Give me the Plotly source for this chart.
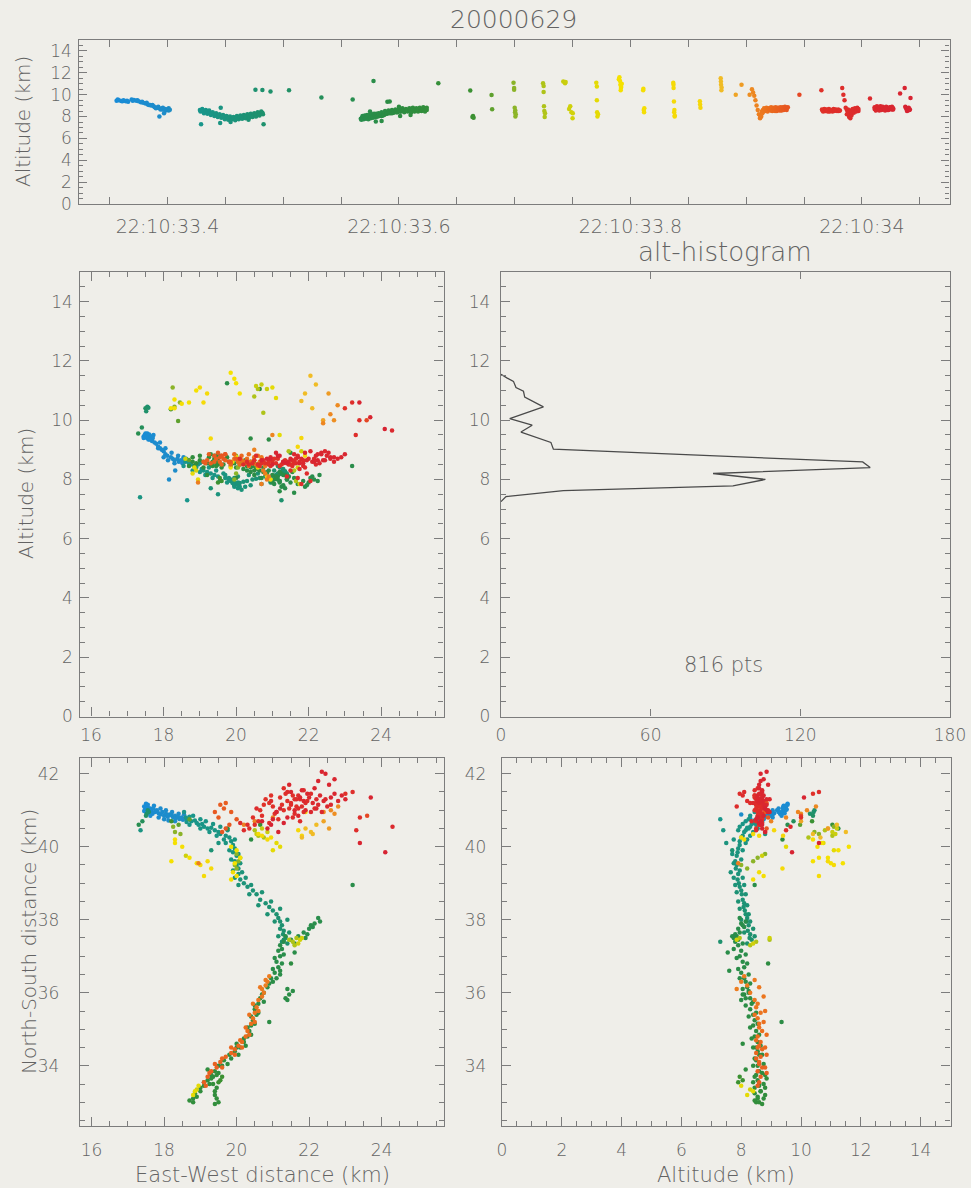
import plotly.graph_objects as go

# ---------------- data ----------------
TITLE = "20000629"
HIST_TITLE = "alt-histogram"
NPTS_TEXT = "816 pts"

# each source: (time [s after 22:10:00], East-West km, North-South km, altitude km)
seg_blue = [
    (33.356, 17.45, 41.10, 9.45), (33.358, 17.48, 41.05, 9.50), (33.360, 17.50, 41.12, 9.42),
    (33.362, 17.52, 41.00, 9.48), (33.364, 17.55, 41.08, 9.40), (33.366, 17.58, 40.95, 9.35),
    (33.369, 17.55, 41.15, 9.55), (33.371, 17.60, 41.02, 9.52), (33.373, 17.65, 40.98, 9.45),
    (33.375, 17.70, 41.05, 9.40), (33.377, 17.68, 40.90, 9.30), (33.379, 17.75, 40.95, 9.25),
    (33.381, 17.80, 41.00, 9.20), (33.383, 17.85, 40.92, 9.10), (33.384, 17.90, 40.88, 9.05),
    (33.386, 17.95, 40.95, 9.00), (33.388, 18.00, 40.85, 8.95), (33.389, 18.05, 40.90, 8.85),
    (33.391, 18.10, 40.82, 8.80), (33.393, 18.15, 40.88, 8.00), (33.393, 18.20, 40.86, 8.75),
    (33.395, 18.25, 40.80, 8.70), (33.396, 18.30, 40.85, 8.65), (33.397, 18.32, 40.78, 8.30),
    (33.398, 18.38, 40.82, 8.70), (33.399, 18.42, 40.76, 8.60), (33.400, 18.48, 40.80, 8.65),
    (33.401, 18.52, 40.74, 8.55), (33.402, 18.58, 40.78, 8.62),
]
seg_blue2 = [
    (33.3570, 17.50, 41.18, 9.55), (33.3610, 17.45, 40.98, 9.40), (33.3650, 17.62, 41.05, 9.45),
    (33.3700, 17.52, 40.92, 9.45), (33.3740, 17.72, 41.12, 9.50), (33.3780, 17.62, 40.85, 9.35),
    (33.3820, 17.90, 41.05, 9.25), (33.3850, 17.85, 40.80, 9.05), (33.3870, 18.05, 41.00, 9.05),
    (33.3900, 18.00, 40.75, 8.75), (33.3920, 18.22, 40.95, 8.90), (33.3940, 18.12, 40.72, 8.65),
    (33.3960, 18.40, 40.90, 8.80), (33.3985, 18.30, 40.70, 8.55), (33.4010, 18.55, 40.88, 8.75),
]
seg_teal = [
    (33.428, 18.60, 40.80, 8.60), (33.429, 18.65, 40.75, 7.30), (33.430, 18.70, 40.82, 8.55),
    (33.431, 18.75, 40.70, 8.50), (33.433, 18.85, 40.72, 8.45), (33.434, 18.90, 40.65, 8.40),
    (33.435, 18.95, 40.60, 8.50), (33.437, 19.05, 40.62, 8.35), (33.438, 19.10, 40.55, 8.30),
    (33.440, 19.20, 40.50, 8.25), (33.441, 19.30, 40.52, 8.20), (33.442, 19.40, 40.45, 8.15),
    (33.444, 19.50, 40.40, 8.10), (33.446, 19.55, 40.35, 8.80), (33.447, 19.70, 40.30, 8.05),
    (33.448, 19.80, 40.25, 8.00), (33.449, 19.85, 40.15, 7.95), (33.451, 19.90, 40.05, 7.95),
    (33.452, 19.95, 39.95, 7.90), (33.453, 19.90, 39.85, 7.88), (33.455, 20.00, 39.75, 7.85),
    (33.456, 19.95, 39.60, 7.80), (33.457, 20.00, 39.50, 7.85), (33.459, 20.05, 39.40, 7.82),
    (33.460, 20.05, 39.25, 7.90), (33.462, 20.10, 39.10, 7.88), (33.463, 20.20, 39.00, 7.92),
    (33.464, 20.30, 38.90, 7.95), (33.466, 20.45, 38.80, 8.00), (33.467, 20.55, 38.70, 8.02),
    (33.468, 20.65, 38.55, 8.05), (33.470, 20.80, 38.45, 8.10), (33.471, 20.90, 38.35, 8.08),
    (33.472, 21.00, 38.25, 8.12), (33.474, 21.10, 38.15, 8.15), (33.475, 21.15, 38.05, 8.20),
    (33.476, 21.20, 37.95, 8.18), (33.477, 21.25, 37.85, 8.25), (33.479, 21.30, 37.70, 8.22),
    (33.480, 21.28, 37.60, 8.30), (33.481, 21.35, 37.50, 8.28), (33.482, 21.30, 37.45, 8.35),
    (33.483, 21.25, 37.40, 7.30),
]
seg_teal2 = [
    (33.4285, 18.55, 40.95, 8.45), (33.4300, 18.62, 40.68, 8.70), (33.4315, 18.80, 40.85, 8.30),
    (33.4330, 18.70, 40.60, 8.60), (33.4345, 19.00, 40.75, 8.25), (33.4360, 19.00, 40.50, 8.55),
    (33.4375, 19.15, 40.70, 8.15), (33.4390, 19.25, 40.40, 8.40), (33.4405, 19.35, 40.62, 8.05),
    (33.4420, 19.45, 40.30, 8.30), (33.4435, 19.55, 40.55, 7.95), (33.4450, 19.65, 40.20, 8.20),
    (33.4465, 19.75, 40.45, 7.90), (33.4480, 19.70, 40.10, 8.15), (33.4495, 19.95, 40.20, 7.75),
    (33.4510, 19.80, 39.90, 8.05), (33.4525, 20.05, 39.80, 7.70), (33.4540, 19.85, 39.65, 8.00),
    (33.4555, 20.10, 39.55, 7.75), (33.4570, 19.90, 39.35, 7.95), (33.4585, 20.15, 39.30, 7.65),
    (33.4600, 19.95, 39.15, 8.05), (33.4615, 20.25, 39.15, 7.75), (33.4630, 20.05, 38.95, 8.10),
    (33.4645, 20.40, 38.95, 7.80), (33.4660, 20.35, 38.70, 8.15), (33.4675, 20.70, 38.75, 7.85),
    (33.4690, 20.60, 38.40, 8.20), (33.4705, 20.95, 38.50, 7.90), (33.4720, 20.85, 38.15, 8.25),
    (33.4735, 21.20, 38.30, 7.95), (33.4750, 21.05, 37.95, 8.30), (33.4765, 21.40, 38.00, 8.00),
    (33.4780, 21.20, 37.75, 8.40), (33.4795, 21.45, 37.65, 8.10), (33.4810, 21.15, 37.55, 8.45),
    (33.4825, 21.40, 37.35, 8.20),
]
seg_isolated = [
    (33.476, 17.55, 41.00, 10.45), (33.482, 17.58, 40.95, 10.42), (33.489, 17.52, 40.90, 10.30),
    (33.505, 17.50, 40.85, 10.40), (33.533, 17.40, 40.70, 9.75), (33.560, 17.30, 40.60, 9.55),
    (33.578, 19.75, 40.50, 11.25), (33.592, 20.40, 40.20, 9.38), (33.634, 20.65, 40.60, 11.05),
]
seg_scatter = [
    (33.4455, 17.35, 40.45, 7.40), (33.4545, 19.50, 40.10, 7.50), (33.4700, 19.30, 39.90, 7.70),
    (33.5750, 23.20, 38.95, 8.45), (33.5800, 21.60, 37.10, 7.55), (33.5850, 21.20, 36.60, 7.60),
    (33.5900, 20.90, 35.20, 9.35), (33.6000, 21.50, 36.80, 8.90), (33.6010, 20.00, 34.60, 8.05),
    (33.6100, 19.20, 33.90, 8.15),
]
seg_green = [
    (33.567, 21.30, 37.40, 7.80), (33.568, 21.50, 37.45, 7.90), (33.569, 21.70, 37.55, 7.85),
    (33.570, 21.85, 37.65, 7.95), (33.571, 22.00, 37.75, 7.90), (33.572, 22.15, 37.90, 8.00),
    (33.573, 22.25, 38.05, 7.95), (33.574, 22.05, 37.85, 8.05), (33.575, 21.20, 37.30, 7.90),
    (33.576, 21.15, 37.15, 8.00), (33.577, 21.20, 37.00, 7.95), (33.579, 21.10, 36.85, 8.05),
    (33.580, 21.15, 36.70, 8.10), (33.581, 21.05, 36.55, 8.00), (33.582, 21.10, 36.40, 8.10),
    (33.584, 21.00, 36.30, 8.15), (33.585, 21.40, 36.10, 8.05), (33.586, 21.45, 35.95, 8.10),
    (33.587, 21.35, 35.85, 8.15), (33.588, 20.85, 36.15, 8.20), (33.589, 20.75, 36.00, 8.25),
    (33.591, 20.65, 35.85, 8.30), (33.592, 20.60, 35.70, 8.35), (33.594, 20.50, 35.55, 8.30),
    (33.595, 20.55, 35.40, 8.40), (33.597, 20.45, 35.25, 8.45), (33.598, 20.40, 35.10, 8.40),
    (33.600, 20.35, 34.95, 8.50), (33.601, 20.30, 34.80, 8.45), (33.603, 20.20, 34.65, 8.55),
    (33.604, 20.10, 34.50, 8.50), (33.606, 19.95, 34.40, 8.55), (33.607, 19.80, 34.30, 8.60),
    (33.609, 19.65, 34.15, 8.50), (33.610, 19.50, 34.00, 8.55), (33.612, 19.40, 33.85, 8.60),
    (33.613, 19.30, 33.75, 8.50), (33.615, 19.20, 33.60, 8.55), (33.616, 19.10, 33.45, 8.60),
    (33.617, 19.00, 33.30, 8.65), (33.619, 18.90, 33.15, 8.55), (33.620, 18.80, 33.00, 8.60),
    (33.621, 19.40, 33.30, 8.65), (33.622, 19.45, 33.10, 8.55), (33.623, 19.40, 32.95, 8.70),
    (33.624, 19.35, 33.50, 8.60),
]
seg_green2 = [
    (33.5675, 21.35, 37.55, 7.70), (33.5685, 21.60, 37.35, 8.05), (33.5695, 21.90, 37.50, 7.75),
    (33.5705, 22.10, 37.80, 8.10), (33.5715, 21.95, 37.60, 7.80), (33.5725, 22.30, 37.95, 8.15),
    (33.5735, 21.25, 37.20, 7.75), (33.5745, 21.30, 37.05, 8.15), (33.5755, 21.05, 36.95, 7.85),
    (33.5765, 21.25, 36.80, 8.20), (33.5775, 21.00, 36.65, 7.90), (33.5785, 21.20, 36.50, 8.25),
    (33.5795, 20.95, 36.40, 7.95), (33.5805, 21.55, 36.05, 8.25), (33.5815, 21.40, 35.80, 8.00),
    (33.5825, 20.90, 36.25, 8.30), (33.5835, 20.70, 35.95, 8.05), (33.5850, 20.75, 35.75, 8.40),
    (33.5865, 20.50, 35.65, 8.15), (33.5880, 20.60, 35.45, 8.50), (33.5895, 20.40, 35.35, 8.25),
    (33.5910, 20.50, 35.15, 8.55), (33.5925, 20.30, 35.05, 8.30), (33.5940, 20.40, 34.85, 8.60),
    (33.5955, 20.20, 34.75, 8.35), (33.5970, 20.25, 34.55, 8.65), (33.5985, 20.00, 34.50, 8.40),
    (33.6000, 20.05, 34.30, 8.70), (33.6015, 19.85, 34.20, 8.45), (33.6030, 19.75, 34.05, 8.75),
    (33.6045, 19.60, 34.00, 8.40), (33.6060, 19.50, 33.80, 8.70), (33.6075, 19.35, 33.70, 8.45),
    (33.6090, 19.25, 33.50, 8.75), (33.6105, 19.10, 33.55, 8.40), (33.6120, 19.00, 33.40, 8.80),
    (33.6135, 18.85, 33.25, 8.45), (33.6150, 18.80, 33.10, 8.75), (33.6165, 19.45, 33.40, 8.45),
    (33.6180, 19.40, 33.20, 8.80), (33.6195, 19.50, 33.00, 8.50), (33.6210, 19.30, 33.65, 8.85),
    (33.6225, 18.70, 33.05, 8.45), (33.6240, 19.45, 33.75, 8.80),
]
seg_yellow = [
    (33.6616, 18.20, 40.70, 10.37), (33.6635, 19.60, 33.70, 7.95), (33.6640, 19.55, 33.60, 8.05),
    (33.6645, 19.50, 33.55, 7.90), (33.6800, 18.40, 40.60, 9.97), (33.6805, 18.70, 40.75, 8.66),
    (33.6990, 18.25, 40.55, 11.10), (33.6995, 18.30, 40.40, 10.45), (33.7000, 20.00, 39.80, 8.80),
    (33.7003, 20.05, 39.60, 8.40), (33.7006, 19.95, 39.50, 8.00), (33.7009, 20.00, 39.40, 8.20),
    (33.7245, 20.60, 40.30, 11.05), (33.7250, 20.75, 40.25, 10.25), (33.7253, 21.45, 37.45, 8.95),
    (33.7256, 21.55, 37.40, 8.50), (33.7259, 21.65, 37.50, 7.95), (33.7420, 20.70, 40.50, 11.20),
    (33.7440, 20.55, 40.35, 11.15), (33.7480, 21.80, 37.50, 8.95), (33.7490, 21.70, 37.35, 8.40),
    (33.7500, 21.75, 37.45, 7.85), (33.7502, 18.90, 33.35, 8.30), (33.7705, 21.00, 39.90, 11.10),
    (33.7710, 21.20, 40.00, 9.50), (33.7712, 18.85, 33.30, 8.40), (33.7715, 18.95, 33.45, 8.00),
    (33.7905, 19.85, 40.00, 11.60), (33.7910, 20.00, 39.90, 11.25), (33.7913, 20.10, 39.70, 10.90),
    (33.7916, 18.20, 39.60, 10.40), (33.7920, 18.30, 40.10, 10.70), (33.8110, 18.30, 40.20, 10.40),
    (33.8115, 19.90, 39.30, 8.60), (33.8118, 19.85, 39.10, 8.40), (33.8370, 19.00, 39.50, 11.10),
    (33.8373, 19.10, 39.20, 10.60), (33.8376, 19.30, 39.40, 9.38), (33.8380, 20.70, 40.30, 8.60),
    (33.8383, 20.85, 40.20, 8.10), (33.8600, 21.80, 40.30, 9.40), (33.8605, 21.90, 40.95, 8.80),
    (33.8780, 22.05, 40.40, 11.50), (33.8783, 21.90, 40.50, 10.90), (33.8786, 22.10, 40.35, 10.40),
    (33.8910, 22.40, 40.70, 10.00), (33.8960, 22.55, 40.50, 10.90), (33.9030, 22.70, 40.90, 10.00),
]
seg_yellow2 = [
    (33.6995, 18.45, 40.35, 10.60), (33.7005, 20.10, 39.70, 8.55), (33.7250, 20.50, 40.45, 10.80),
    (33.7262, 21.60, 37.30, 8.30), (33.7435, 20.85, 40.40, 11.05), (33.7470, 18.60, 39.75, 8.70),
    (33.7710, 21.10, 40.10, 10.75), (33.7720, 18.80, 33.20, 8.20), (33.7900, 19.95, 39.55, 11.40),
    (33.7918, 18.70, 39.70, 10.60), (33.7925, 18.90, 39.55, 11.00), (33.8112, 18.50, 40.00, 10.55),
    (33.8120, 20.00, 39.20, 8.75), (33.8372, 19.20, 39.60, 10.90), (33.8378, 20.60, 40.35, 8.40),
    (33.8382, 20.95, 40.25, 8.00), (33.8602, 21.70, 40.45, 9.10), (33.8782, 22.20, 40.60, 11.20),
    (33.8788, 21.80, 40.25, 10.65),
]
seg_orange = [
    (33.905, 22.80, 41.10, 10.50), (33.906, 22.60, 41.00, 10.20), (33.907, 22.40, 40.95, 9.90),
    (33.908, 21.00, 40.80, 9.50), (33.909, 20.50, 40.70, 9.00), (33.910, 20.20, 40.60, 8.60),
    (33.911, 20.80, 36.20, 8.20), (33.912, 20.70, 36.10, 7.85), (33.912, 18.95, 39.55, 7.90),
    (33.913, 20.85, 36.30, 8.00), (33.914, 20.75, 36.00, 8.30), (33.915, 20.60, 35.80, 8.45),
    (33.916, 20.55, 35.60, 8.50), (33.917, 20.50, 35.45, 8.65), (33.918, 20.45, 35.30, 8.55),
    (33.919, 20.40, 35.15, 8.60), (33.920, 20.30, 34.95, 8.70), (33.921, 20.25, 34.80, 8.55),
    (33.922, 20.15, 34.65, 8.65), (33.923, 20.05, 34.55, 8.60), (33.924, 19.95, 34.45, 8.70),
    (33.925, 19.85, 34.35, 8.50), (33.926, 19.70, 34.25, 8.65), (33.927, 19.55, 34.10, 8.60),
    (33.928, 19.45, 33.95, 8.70), (33.929, 19.30, 33.85, 8.55), (33.930, 19.20, 33.70, 8.65),
    (33.931, 19.10, 33.55, 8.60), (33.932, 19.55, 41.15, 8.75), (33.933, 19.65, 41.05, 8.70),
    (33.934, 19.40, 40.95, 8.80), (33.935, 19.80, 40.60, 8.60), (33.936, 19.70, 40.50, 8.85),
    (33.946, 23.60, 40.85, 10.00),
]
seg_orange2 = [
    (33.9125, 20.90, 36.45, 8.10), (33.9135, 20.80, 36.35, 8.45), (33.9145, 20.65, 36.15, 8.60),
    (33.9155, 20.70, 35.90, 8.75), (33.9165, 20.45, 35.70, 8.55), (33.9175, 20.60, 35.50, 8.80),
    (33.9185, 20.35, 35.40, 8.45), (33.9195, 20.50, 35.20, 8.75), (33.9205, 20.25, 35.05, 8.60),
    (33.9215, 20.35, 34.85, 8.85), (33.9225, 20.10, 34.70, 8.50), (33.9235, 20.15, 34.50, 8.80),
    (33.9245, 19.85, 34.50, 8.55), (33.9255, 19.95, 34.30, 8.85), (33.9265, 19.60, 34.20, 8.50),
    (33.9275, 19.60, 33.95, 8.80), (33.9285, 19.40, 34.05, 8.60), (33.9295, 19.25, 33.80, 8.85),
    (33.9305, 19.15, 33.45, 8.55), (33.9315, 19.70, 41.20, 8.85), (33.9325, 19.85, 40.95, 8.60),
    (33.9335, 19.50, 40.80, 8.90), (33.9345, 20.00, 40.75, 8.70), (33.9355, 19.60, 40.40, 8.80),
]
seg_red = [
    (33.965, 23.00, 41.45, 10.40), (33.966, 20.80, 41.30, 8.55), (33.968, 20.90, 41.20, 8.50),
    (33.969, 21.00, 41.10, 8.60), (33.970, 21.10, 40.95, 8.55), (33.972, 21.20, 41.35, 8.45),
    (33.973, 21.30, 41.00, 8.60), (33.974, 20.70, 40.85, 8.55), (33.976, 20.60, 40.70, 8.50),
    (33.977, 20.50, 40.60, 8.65), (33.978, 21.40, 41.25, 8.60), (33.980, 21.50, 41.15, 8.50),
    (33.981, 21.60, 41.30, 8.55), (33.983, 23.20, 41.50, 10.60), (33.984, 23.40, 40.80, 10.00),
    (33.985, 23.30, 40.45, 9.50), (33.986, 21.70, 41.05, 8.80), (33.987, 21.60, 40.90, 8.60),
    (33.988, 21.50, 41.20, 8.30), (33.989, 21.70, 41.40, 8.05), (33.990, 21.80, 41.10, 7.85),
    (33.991, 21.90, 41.20, 8.40), (33.993, 20.30, 40.60, 8.60), (33.995, 20.20, 40.45, 8.50),
    (33.997, 20.10, 40.65, 8.70), (34.007, 24.30, 40.55, 9.65), (34.011, 22.00, 41.35, 8.70),
    (34.012, 22.10, 41.20, 8.60), (34.014, 22.20, 41.05, 8.80), (34.015, 22.30, 41.40, 8.55),
    (34.017, 21.80, 41.55, 8.70), (34.018, 21.90, 41.00, 8.90), (34.020, 22.40, 41.25, 8.65),
    (34.021, 22.50, 41.10, 8.80), (34.022, 21.45, 41.70, 8.60), (34.023, 21.70, 40.85, 8.75),
    (34.024, 22.60, 41.35, 8.70), (34.025, 22.35, 42.05, 8.85), (34.026, 22.45, 42.00, 8.65),
    (34.027, 22.70, 41.85, 8.75), (34.033, 23.70, 41.35, 10.10), (34.037, 23.40, 40.10, 10.60),
    (34.038, 21.20, 41.05, 8.80), (34.039, 21.00, 40.75, 8.50), (34.040, 20.85, 40.50, 8.70),
    (34.041, 21.30, 40.65, 8.60), (34.042, 24.10, 39.85, 9.70),
]
seg_red2 = [
    (33.9655, 20.75, 41.15, 8.65), (33.9665, 20.95, 41.40, 8.45), (33.9675, 21.05, 40.90, 8.70),
    (33.9685, 21.25, 41.15, 8.50), (33.9695, 21.35, 41.45, 8.65), (33.9705, 20.65, 41.00, 8.45),
    (33.9715, 21.15, 40.75, 8.70), (33.9725, 21.45, 41.05, 8.50), (33.9735, 20.90, 40.65, 8.60),
    (33.9745, 21.55, 41.40, 8.45), (33.9755, 21.65, 41.10, 8.70), (33.9765, 20.45, 40.80, 8.55),
    (33.9775, 21.75, 41.30, 8.60), (33.9785, 20.35, 40.50, 8.50), (33.9795, 21.85, 40.95, 8.65),
    (33.9805, 21.30, 41.60, 8.55),
    (33.9870, 21.95, 41.25, 8.20), (33.9880, 21.55, 40.80, 8.65), (33.9890, 22.05, 41.45, 7.95),
    (33.9900, 21.65, 41.30, 8.55), (33.9910, 21.40, 41.50, 8.10), (33.9920, 22.15, 41.05, 8.70),
    (33.9930, 21.75, 40.70, 8.35), (33.9940, 20.95, 41.25, 8.75), (33.9950, 21.85, 41.55, 8.45),
    (33.9960, 20.55, 41.05, 8.80), (33.9970, 22.20, 41.30, 8.50),
    (34.0110, 22.25, 41.15, 8.85), (34.0120, 21.85, 41.25, 8.55), (34.0130, 22.45, 41.30, 8.95),
    (34.0140, 21.95, 41.45, 8.65), (34.0150, 22.60, 41.15, 8.75), (34.0160, 22.05, 40.95, 8.95),
    (34.0170, 22.70, 41.45, 8.60), (34.0180, 21.60, 41.00, 8.85), (34.0190, 22.80, 41.25, 8.70),
    (34.0200, 21.75, 41.35, 8.55), (34.0210, 22.35, 40.95, 8.90), (34.0220, 22.90, 41.40, 8.75),
    (34.0230, 22.15, 41.60, 8.60), (34.0240, 23.00, 41.30, 8.85), (34.0250, 21.50, 41.50, 8.70),
    (34.0260, 22.55, 41.70, 8.90), (34.0270, 22.25, 41.80, 8.65),
    (34.0375, 21.10, 40.95, 8.90), (34.0385, 20.95, 40.60, 8.70), (34.0395, 21.40, 40.80, 8.55),
    (34.0405, 21.15, 40.40, 8.80), (34.0415, 20.70, 40.70, 8.65),
]

# altitude histogram outline (altitude km, number of sources)
hist_alt = [7.25, 7.42, 7.62, 7.78, 8.00, 8.20, 8.40, 8.59, 9.02, 9.25, 9.60, 9.83,
            10.05, 10.45, 10.78, 10.98, 11.10, 11.31, 11.42, 11.55]
hist_count = [0, 2, 25, 93, 106, 85, 148, 145, 21, 20, 8, 12.5,
              3.5, 17, 9.5, 9, 6, 5, 2.5, 0]

time_tickvals = [33.4, 33.6, 33.8, 34.0]
time_ticktext = ["22:10:33.4", "22:10:33.6", "22:10:33.8", "22:10:34"]
hist_tickvals = [0, 60, 120, 180]

# ---------------- assemble ----------------
sources = sorted(seg_blue + seg_blue2 + seg_teal + seg_teal2 + seg_isolated + seg_scatter + seg_green
                 + seg_green2 + seg_yellow + seg_yellow2 + seg_orange + seg_orange2 + seg_red + seg_red2)
t = [s[0] for s in sources]
ew = [s[1] for s in sources]
ns = [s[2] for s in sources]
alt = [s[3] for s in sources]

T0, T1 = min(t), max(t)
color_stops = [
    (T0, "rgb(25,140,215)"), (33.40, "rgb(30,140,200)"), (33.428, "rgb(25,150,140)"),
    (33.48, "rgb(30,145,110)"), (33.60, "rgb(45,140,65)"), (33.665, "rgb(60,145,50)"),
    (33.70, "rgb(140,180,40)"), (33.75, "rgb(210,210,10)"), (33.79, "rgb(245,225,0)"),
    (33.86, "rgb(245,215,10)"), (33.88, "rgb(240,185,40)"), (33.92, "rgb(235,110,30)"),
    (33.96, "rgb(225,50,40)"), (T1, "rgb(215,35,50)"),
]
colorscale = [[(tt - T0) / (T1 - T0), c] for tt, c in color_stops]
colorscale[0][0] = 0.0
colorscale[-1][0] = 1.0

W, H = 971, 1188
BG = "#efeee9"
AX = "#7c7c7c"
TXT = "#636363"
FONT = "DejaVu Sans"
FW = 200


def px_x(p):
    return p / W


def px_y(p):
    return 1 - p / H


marker = dict(size=4.5, color=t, colorscale=colorscale, cmin=T0, cmax=T1, line=dict(width=0))

fig = go.Figure()
fig.add_trace(go.Scatter(x=t, y=alt, mode="markers", marker=marker, xaxis="x", yaxis="y", showlegend=False))
fig.add_trace(go.Scatter(x=ew, y=alt, mode="markers", marker=marker, xaxis="x2", yaxis="y2", showlegend=False))
fig.add_trace(go.Scatter(x=hist_count, y=hist_alt, mode="lines", line=dict(color="#4a4a4a", width=1.3),
                         xaxis="x3", yaxis="y3", showlegend=False))
fig.add_trace(go.Scatter(x=ew, y=ns, mode="markers", marker=marker, xaxis="x4", yaxis="y4", showlegend=False))
fig.add_trace(go.Scatter(x=alt, y=ns, mode="markers", marker=marker, xaxis="x5", yaxis="y5", showlegend=False))


def ax(domain, rng, anchor, fsize=17, **kw):
    d = dict(domain=domain, range=rng, anchor=anchor, showline=True, linecolor=AX, linewidth=1.3,
             mirror="ticks", ticks="inside", ticklen=9, tickwidth=1.2, tickcolor=AX,
             showgrid=False, zeroline=False, automargin=False,
             tickfont=dict(family=FONT, size=fsize, color=TXT, weight=FW))
    d.update(kw)
    return d


def minor(dt, t0=0, ln=5):
    return dict(ticks="inside", ticklen=ln, dtick=dt, tick0=t0, tickcolor=AX, tickwidth=1.1, showgrid=False)


xL, xR = px_x(78.5), px_x(949.5)
mlL, mlR = px_x(79.5), px_x(443.5)
mrL, mrR = px_x(501), px_x(950)
blL, blR = px_x(80), px_x(444)
brL, brR = px_x(502), px_x(950.5)
topD = [px_y(204), px_y(40)]
midD = [px_y(716.5), px_y(272)]
botD = [px_y(1126), px_y(758)]

fig.update_layout(
    width=W, height=H, margin=dict(l=0, r=0, t=0, b=0, pad=0, autoexpand=False), autosize=False,
    paper_bgcolor=BG, plot_bgcolor=BG,
    xaxis=ax([xL, xR], [33.3231, 34.0757], "y", fsize=19, tickmode="array", tickvals=time_tickvals,
             ticktext=time_ticktext, ticklen=7, minor=minor(0.05, 33.35, 7), ticklabelstandoff=5),
    yaxis=ax(topD, [0, 15], "x", dtick=2, tick0=0, ticklen=8, minor=minor(0.5, 0, 4), ticklabelstandoff=2),
    xaxis2=ax([mlL, mlR], [15.68, 25.72], "y2", dtick=2, tick0=16, minor=minor(0.5, 16), ticklabelstandoff=3),
    yaxis2=ax(midD, [0, 15], "x2", dtick=2, tick0=0, minor=minor(0.5, 0), ticklabelstandoff=2),
    xaxis3=ax([mrL, mrR], [0, 180], "y3", tickmode="array", tickvals=hist_tickvals, ticklen=7,
              ticklabelstandoff=3),
    yaxis3=ax(midD, [0, 15], "x3", dtick=2, tick0=0, minor=minor(0.5, 0), ticklabelstandoff=6),
    xaxis4=ax([blL, blR], [15.68, 25.72], "y4", dtick=2, tick0=16, minor=minor(0.5, 16), ticklabelstandoff=8),
    yaxis4=ax(botD, [32.35, 42.43], "x4", dtick=2, tick0=34, minor=minor(0.5, 34), ticklabelstandoff=16),
    xaxis5=ax([brL, brR], [0, 15.0], "y5", dtick=2, tick0=0, minor=minor(0.5, 0), ticklabelstandoff=8),
    yaxis5=ax(botD, [32.35, 42.43], "x5", dtick=2, tick0=34, minor=minor(0.5, 34), ticklabelstandoff=11),
)


def ann(text, x, y, size, angle=0):
    return dict(text=text, x=px_x(x), y=px_y(y), xref="paper", yref="paper", showarrow=False,
                xanchor="center", yanchor="middle", textangle=angle,
                font=dict(family=FONT, size=size, color=TXT, weight=FW))


annotations = [
    ann(TITLE, 513, 19, 25),
    ann(HIST_TITLE, 725, 252, 26),
    ann("Altitude (km)", 23, 122, 20, -90),
    ann("Altitude (km)", 26, 494, 20, -90),
    ann("North-South distance (km)", 29, 942, 20, -90),
    ann("East-West distance (km)", 262, 1175, 21),
    ann("Altitude (km)", 726, 1175, 21),
    dict(text=NPTS_TEXT, x=89, y=1.74, xref="x3", yref="y3", showarrow=False,
         xanchor="center", yanchor="middle", font=dict(family=FONT, size=21, color=TXT, weight=FW)),
]
fig.update_layout(annotations=annotations)

fig.write_html(
    "out.html",
    config={"responsive": False, "displayModeBar": False},
    default_width="971px",
    default_height="1188px",
    post_script=("document.documentElement.style.margin='0';document.body.style.margin='0';"
                 "document.body.style.padding='0';document.body.style.overflow='hidden';"
                 "document.documentElement.style.overflow='hidden';"),
)
